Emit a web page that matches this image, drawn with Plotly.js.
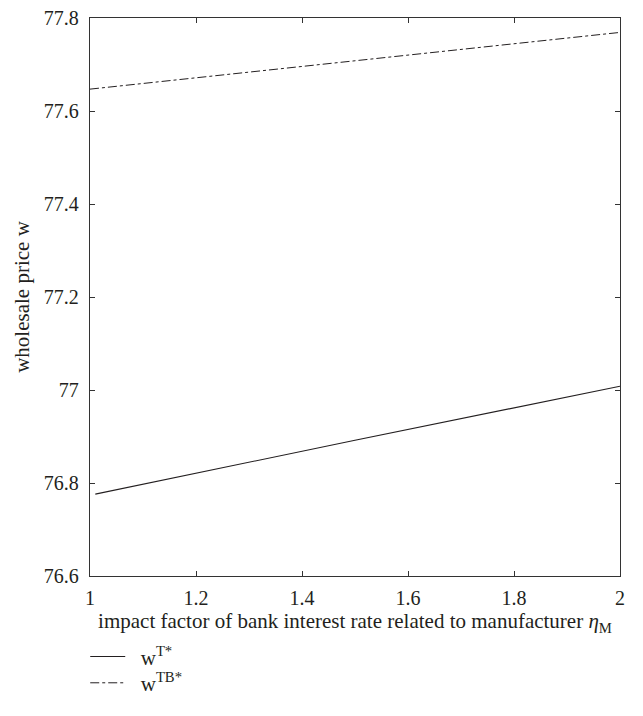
<!DOCTYPE html>
<html>
<head>
<meta charset="utf-8">
<script src="https://cdn.plot.ly/plotly-3.0.1.min.js"></script>
<style>html,body{margin:0;padding:0;background:#fff;}#chart{width:643px;height:716px;}</style>
</head>
<body>
<div id="chart"></div>
<script>
// Data
const etaT = [1.01, 1.5, 2];
const wT = [76.776, 76.892, 77.008];
const etaTB = [1.0, 1.5, 2];
const wTB = [77.647, 77.708, 77.769];
const seriesNames = ['\u00A0\u00A0w<sup>T*</sup>', '\u00A0\u00A0w<sup>TB*</sup>'];
const xTicks = [1, 1.2, 1.4, 1.6, 1.8, 2];
const xTickText = ['1', '1.2', '1.4', '1.6', '1.8', '2'];
const yTicks = [76.6, 76.8, 77, 77.2, 77.4, 77.6, 77.8];
const yTickText = ['76.6', '76.8', '77', '77.2', '77.4', '77.6', '77.8'];

const ink = '#231f20';
const fontFam = '"Liberation Serif", "DejaVu Serif", serif';

const traces = [
  {x: etaT, y: wT, name: seriesNames[0], mode: 'lines', legend: 'legend',
   line: {color: ink, width: 1.1}},
  {x: etaTB, y: wTB, name: seriesNames[1], mode: 'lines', legend: 'legend2',
   line: {color: ink, width: 1, dash: '9px,3px,3px,3px'}}
];

const axisCommon = {
  showline: true, linecolor: '#333', linewidth: 1.2, mirror: 'ticks',
  ticks: 'inside', ticklen: 5, tickcolor: '#333', tickwidth: 1,
  showgrid: false, zeroline: false,
  tickfont: {family: fontFam, size: 20, color: ink}
};

const legendCommon = {
  x: -0.009, xanchor: 'left', yanchor: 'middle',
  bgcolor: 'rgba(0,0,0,0)', font: {family: fontFam, size: 21, color: ink},
  itemwidth: 35
};

const layout = {
  width: 643, height: 716,
  margin: {l: 90, r: 23, t: 18, b: 121},
  paper_bgcolor: '#fff', plot_bgcolor: '#fff',
  font: {family: fontFam, color: ink, size: 21},
  showlegend: true,
  legend: Object.assign({}, legendCommon, {y: -0.145}),
  legend2: Object.assign({}, legendCommon, {y: -0.192}),
  xaxis: Object.assign({}, axisCommon, {
    range: [1, 2], tickvals: xTicks, ticktext: xTickText, ticklabelstandoff: 4,
    title: {text: 'impact factor of bank interest rate related to manufacturer <i>η</i><sub>M</sub>',
            font: {family: fontFam, size: 21, color: ink}, standoff: 4}
  }),
  yaxis: Object.assign({}, axisCommon, {
    range: [76.6, 77.8], tickvals: yTicks, ticktext: yTickText, ticklabelstandoff: 6,
    title: {text: 'wholesale price w', font: {family: fontFam, size: 21, color: ink}, standoff: 8}
  })
};

Plotly.newPlot('chart', traces, layout, {displayModeBar: false, staticPlot: true});
</script>
</body>
</html>
